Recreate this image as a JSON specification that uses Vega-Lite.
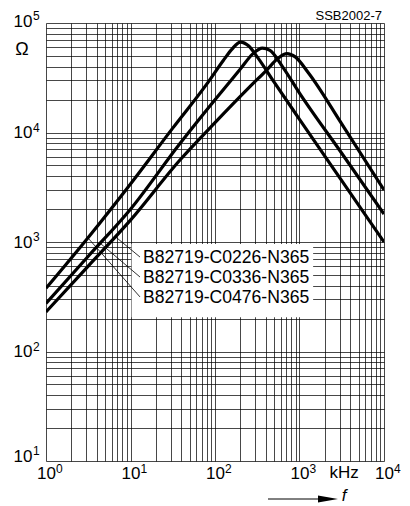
{
  "$schema": "https://vega.github.io/schema/vega-lite/v6.json",
  "width": 338,
  "height": 438,
  "autosize": "none",
  "padding": {"left": 46, "top": 23, "right": 26, "bottom": 45},
  "background": "white",
  "config": {
    "view": {"stroke": null},
    "font": "Liberation Sans",
    "axis": {
      "labelFont": "Liberation Sans",
      "labelFontSize": 17,
      "labelColor": "#000",
      "ticks": false,
      "domain": false,
      "grid": true,
      "gridColor": "#000",
      "gridWidth": 0.8,
      "gridOpacity": 0.9,
      "labelOverlap": false,
      "labelFlush": false,
      "title": null
    }
  },
  "datasets": {
    "curves": [
      {"part": "B82719-C0476-N365", "f": 1, "z": 378},
      {"part": "B82719-C0476-N365", "f": 3.16, "z": 1100},
      {"part": "B82719-C0476-N365", "f": 10, "z": 3390},
      {"part": "B82719-C0476-N365", "f": 31.6, "z": 10960},
      {"part": "B82719-C0476-N365", "f": 79.4, "z": 27500},
      {"part": "B82719-C0476-N365", "f": 126, "z": 45700},
      {"part": "B82719-C0476-N365", "f": 158, "z": 57500},
      {"part": "B82719-C0476-N365", "f": 200, "z": 67000},
      {"part": "B82719-C0476-N365", "f": 251, "z": 61700},
      {"part": "B82719-C0476-N365", "f": 316, "z": 49000},
      {"part": "B82719-C0476-N365", "f": 501, "z": 28800},
      {"part": "B82719-C0476-N365", "f": 1000, "z": 13200},
      {"part": "B82719-C0476-N365", "f": 3160, "z": 3630},
      {"part": "B82719-C0476-N365", "f": 10000, "z": 1000},
      {"part": "B82719-C0336-N365", "f": 1, "z": 275},
      {"part": "B82719-C0336-N365", "f": 3.16, "z": 741},
      {"part": "B82719-C0336-N365", "f": 10, "z": 1995},
      {"part": "B82719-C0336-N365", "f": 38.5, "z": 7943},
      {"part": "B82719-C0336-N365", "f": 100, "z": 19950},
      {"part": "B82719-C0336-N365", "f": 199.5, "z": 38000},
      {"part": "B82719-C0336-N365", "f": 282, "z": 52500},
      {"part": "B82719-C0336-N365", "f": 363, "z": 58900},
      {"part": "B82719-C0336-N365", "f": 447, "z": 56200},
      {"part": "B82719-C0336-N365", "f": 631, "z": 39800},
      {"part": "B82719-C0336-N365", "f": 1000, "z": 22900},
      {"part": "B82719-C0336-N365", "f": 3160, "z": 6460},
      {"part": "B82719-C0336-N365", "f": 10000, "z": 1800},
      {"part": "B82719-C0226-N365", "f": 1, "z": 230},
      {"part": "B82719-C0226-N365", "f": 3.16, "z": 603},
      {"part": "B82719-C0226-N365", "f": 10, "z": 1585},
      {"part": "B82719-C0226-N365", "f": 38.5, "z": 5610},
      {"part": "B82719-C0226-N365", "f": 100, "z": 12300},
      {"part": "B82719-C0226-N365", "f": 259, "z": 26200},
      {"part": "B82719-C0226-N365", "f": 409, "z": 37200},
      {"part": "B82719-C0226-N365", "f": 562, "z": 47900},
      {"part": "B82719-C0226-N365", "f": 708, "z": 52500},
      {"part": "B82719-C0226-N365", "f": 891, "z": 49000},
      {"part": "B82719-C0226-N365", "f": 1259, "z": 35500},
      {"part": "B82719-C0226-N365", "f": 3160, "z": 12000},
      {"part": "B82719-C0226-N365", "f": 10000, "z": 2985}
    ],
    "labels": [
      {"part": "B82719-C0226-N365", "f1": 6.61, "z1": 1119, "f2": 12.95, "z2": 729, "tf": 14.06, "tz": 721},
      {"part": "B82719-C0336-N365", "f1": 4.36, "z1": 977, "f2": 12.95, "z2": 479, "tf": 14.06, "tz": 474},
      {"part": "B82719-C0476-N365", "f1": 3.14, "z1": 1089, "f2": 12.95, "z2": 315, "tf": 14.06, "tz": 311}
    ],
    "box": [{"f1": 10.3, "f2": 1450, "z1": 960, "z2": 205}],
    "xexp": [
      {"f": 1, "z": 10, "e": "0"},
      {"f": 10, "z": 10, "e": "1"},
      {"f": 100, "z": 10, "e": "2"},
      {"f": 1000, "z": 10, "e": "3"},
      {"f": 10000, "z": 10, "e": "4"}
    ],
    "yexp": [
      {"f": 1, "z": 100, "e": "2"},
      {"f": 1, "z": 1000, "e": "3"},
      {"f": 1, "z": 10000, "e": "4"}
    ]
  },
  "encoding": {
    "x": {"type": "quantitative"},
    "y": {"type": "quantitative"}
  },
  "layer": [
    {
      "data": {"name": "box"},
      "mark": {"type": "rect", "fill": "white", "stroke": null},
      "encoding": {
        "x": {"field": "f1", "type": "quantitative",
          "scale": {"type": "log", "domain": [1, 10000], "nice": false},
          "axis": {
            "values": [1,2,3,4,5,6,7,8,9,10,20,30,40,50,60,70,80,90,100,200,300,400,500,600,700,800,900,1000,2000,3000,4000,5000,6000,7000,8000,9000,10000],
            "labelExpr": "(datum.value == 1 || datum.value == 10 || datum.value == 100 || datum.value == 1000 || datum.value == 10000) ? '10' : ''",
            "labelBaseline": "alphabetic",
            "labelPadding": 17
          }},
        "x2": {"field": "f2"},
        "y": {"field": "z1", "type": "quantitative",
          "scale": {"type": "log", "domain": [10, 100000], "nice": false},
          "axis": {
            "values": [10,20,30,40,50,60,70,80,90,100,200,300,400,500,600,700,800,900,1000,2000,3000,4000,5000,6000,7000,8000,9000,10000,20000,30000,40000,50000,60000,70000,80000,90000,100000],
            "labelExpr": "(datum.value == 10 || datum.value == 100 || datum.value == 1000 || datum.value == 10000 || datum.value == 100000) ? '10' : ''",
            "labelPadding": 14,
            "labelAlign": "right",
            "labelBaseline": "middle",
            "labelOffset": {"condition": [{"test": "datum.value == 10", "value": -5}, {"test": "datum.value == 100000", "value": -2}], "value": 0}
          }},
        "y2": {"field": "z2"}
      }
    },
    {
      "data": {"name": "xexp"},
      "mark": {"type": "text", "align": "left", "baseline": "alphabetic", "fontSize": 12, "dx": 10, "dy": 12, "color": "#000"},
      "encoding": {
        "x": {"field": "f", "type": "quantitative"},
        "y": {"field": "z", "type": "quantitative"},
        "text": {"field": "e"}
      }
    },
    {
      "data": {"name": "yexp"},
      "mark": {"type": "text", "align": "left", "baseline": "alphabetic", "fontSize": 12, "dx": -13, "dy": -1, "color": "#000"},
      "encoding": {
        "x": {"field": "f", "type": "quantitative"},
        "y": {"field": "z", "type": "quantitative"},
        "text": {"field": "e"}
      }
    },
    {
      "data": {"values": [{"f": 1, "z": 100000, "e": "5"}]},
      "mark": {"type": "text", "align": "left", "baseline": "alphabetic", "fontSize": 12, "dx": -13, "dy": -3, "color": "#000"},
      "encoding": {
        "x": {"field": "f", "type": "quantitative"},
        "y": {"field": "z", "type": "quantitative"},
        "text": {"field": "e"}
      }
    },
    {
      "data": {"values": [{"f": 1, "z": 10, "e": "1"}]},
      "mark": {"type": "text", "align": "left", "baseline": "alphabetic", "fontSize": 12, "dx": -13, "dy": -6, "color": "#000"},
      "encoding": {
        "x": {"field": "f", "type": "quantitative"},
        "y": {"field": "z", "type": "quantitative"},
        "text": {"field": "e"}
      }
    },
    {
      "data": {"name": "labels"},
      "mark": {"type": "rule", "color": "#000", "strokeWidth": 0.8},
      "encoding": {
        "x": {"field": "f1", "type": "quantitative"},
        "x2": {"field": "f2"},
        "y": {"field": "z1", "type": "quantitative"},
        "y2": {"field": "z2"}
      }
    },
    {
      "data": {"name": "labels"},
      "mark": {"type": "text", "align": "left", "baseline": "middle", "fontSize": 17.6, "font": "Liberation Sans", "color": "#000"},
      "encoding": {
        "x": {"field": "tf", "type": "quantitative"},
        "y": {"field": "tz", "type": "quantitative"},
        "text": {"field": "part"}
      }
    },
    {
      "data": {"name": "curves"},
      "mark": {"type": "line", "color": "#000", "strokeWidth": 3.2, "interpolate": "monotone", "clip": true},
      "encoding": {
        "x": {"field": "f", "type": "quantitative"},
        "y": {"field": "z", "type": "quantitative"},
        "detail": {"field": "part"}
      }
    },
    {
      "data": {"values": [{"f": 10000, "z": 100000, "t": "SSB2002-7"}]},
      "mark": {"type": "text", "align": "right", "baseline": "alphabetic", "fontSize": 13, "dx": -2, "dy": -3, "color": "#000"},
      "encoding": {
        "x": {"field": "f", "type": "quantitative"},
        "y": {"field": "z", "type": "quantitative"},
        "text": {"field": "t"}
      }
    },
    {
      "data": {"values": [{"f": 1, "z": 56600, "t": "Ω"}]},
      "mark": {"type": "text", "align": "center", "baseline": "middle", "fontSize": 18, "dx": -24, "color": "#000"},
      "encoding": {
        "x": {"field": "f", "type": "quantitative"},
        "y": {"field": "z", "type": "quantitative"},
        "text": {"field": "t"}
      }
    },
    {
      "data": {"values": [{"f": 3365, "z": 10, "t": "kHz"}]},
      "mark": {"type": "text", "align": "center", "baseline": "alphabetic", "fontSize": 17, "dy": 17, "color": "#000"},
      "encoding": {
        "x": {"field": "f", "type": "quantitative"},
        "y": {"field": "z", "type": "quantitative"},
        "text": {"field": "t"}
      }
    },
    {
      "data": {"values": [{"f": 424, "f2": 1750, "z": 10}]},
      "mark": {"type": "rule", "color": "#000", "strokeWidth": 1, "yOffset": 38},
      "encoding": {
        "x": {"field": "f", "type": "quantitative"},
        "x2": {"field": "f2"},
        "y": {"field": "z", "type": "quantitative"}
      }
    },
    {
      "data": {"values": [{"f": 2173, "z": 10}]},
      "mark": {"type": "point", "shape": "M -1 -0.35 L 1 0 L -1 0.35 Z", "size": 400, "filled": true, "color": "#000", "opacity": 1, "yOffset": 38},
      "encoding": {
        "x": {"field": "f", "type": "quantitative"},
        "y": {"field": "z", "type": "quantitative"}
      }
    },
    {
      "data": {"values": [{"f": 3365, "z": 10, "t": "f"}]},
      "mark": {"type": "text", "align": "center", "baseline": "middle", "fontSize": 17, "fontStyle": "italic", "dy": 35, "color": "#000"},
      "encoding": {
        "x": {"field": "f", "type": "quantitative"},
        "y": {"field": "z", "type": "quantitative"},
        "text": {"field": "t"}
      }
    }
  ]
}
